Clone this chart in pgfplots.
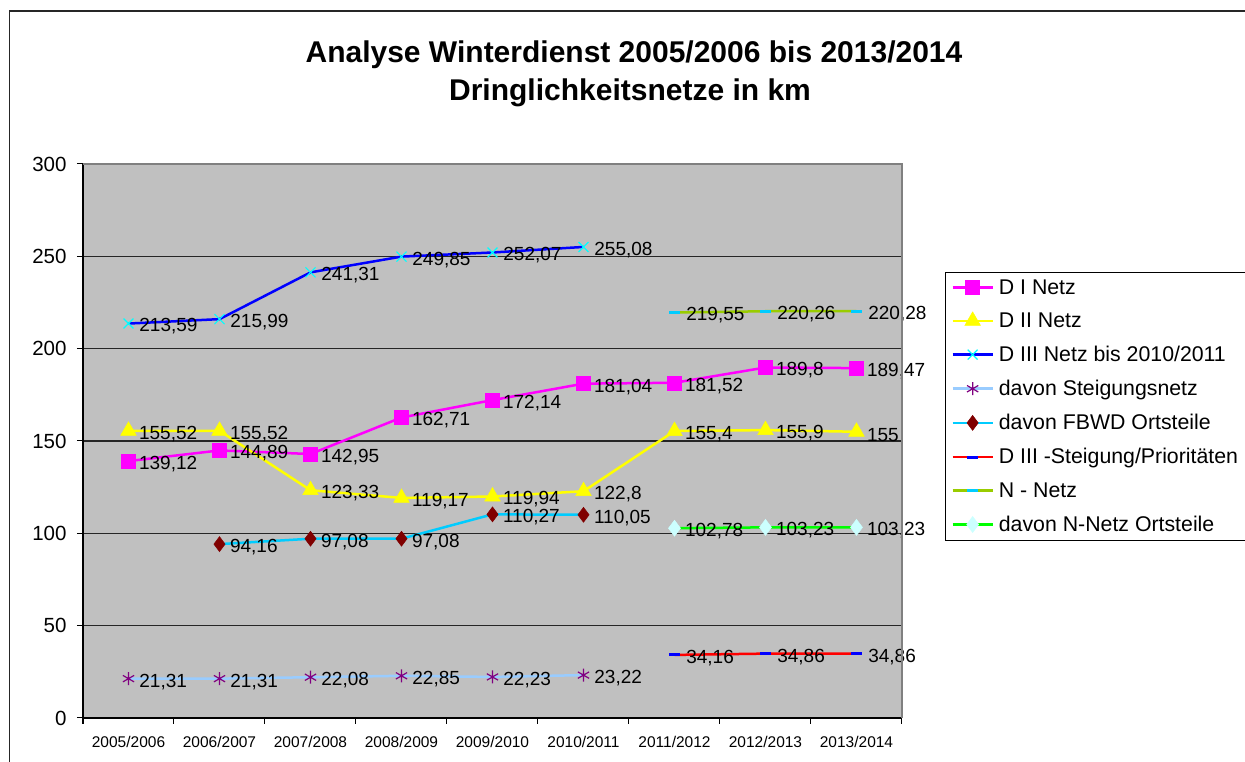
\documentclass[border=0pt]{standalone}
\usepackage{fontspec}
\setmainfont{Liberation Sans}
\usepackage{pgfplots}
\pgfplotsset{compat=1.18}
\definecolor{bgc}{RGB}{192,192,192}
\definecolor{mag}{RGB}{255,0,255}
\definecolor{yel}{RGB}{255,255,0}
\definecolor{dblue}{RGB}{0,0,255}
\definecolor{cyn}{RGB}{0,255,255}
\definecolor{lblue}{RGB}{153,204,255}
\definecolor{purp}{RGB}{128,0,128}
\definecolor{skyc}{RGB}{0,204,255}
\definecolor{dred}{RGB}{128,0,0}
\definecolor{ygreen}{RGB}{153,204,0}
\definecolor{lgreen}{RGB}{0,255,0}
\definecolor{lcyan}{RGB}{204,255,255}
\begin{document}
\begin{tikzpicture}[x=1pt,y=1pt]
\useasboundingbox (0,0) rectangle (1245,762);
\fill[white] (0,0) rectangle (1245,762);
\draw[line width=1.2pt, black!85] (9.5,-2) -- (9.5,751) -- (1247,751);
\node[anchor=base, font=\bfseries\fontsize{30}{36}\selectfont] at (634,699) {Analyse Winterdienst 2005/2006 bis 2013/2014};
\node[anchor=base, font=\bfseries\fontsize{30}{36}\selectfont] at (630,661) {Dringlichkeitsnetze in km};
\begin{axis}[
  at={(83pt,44pt)}, anchor=south west,
  scale only axis, width=819pt, height=554pt,
  xmin=-0.5, xmax=8.5, ymin=0, ymax=300,
  clip=false,
  axis background/.style={fill=bgc},
  axis x line*=bottom, axis y line*=left,
  axis line style={line width=1.5pt, black},
  xtick={0,...,8},
  xticklabels={2005/2006,2006/2007,2007/2008,2008/2009,2009/2010,2010/2011,2011/2012,2012/2013,2013/2014},
  major x tick style={draw=none},
  minor xtick={-0.5,0.5,...,8.5},
  minor tick length=6pt,
  minor x tick style={line width=1pt, black},
  ytick={0,50,...,300},
  tick align=outside,
  major tick length=6pt,
  major y tick style={line width=1pt, black},
  ymajorgrids,
  grid style={line width=1.2pt, black!85},
  /pgf/number format/assume math mode=true,
  yticklabel style={font=\fontsize{20.5}{24}\selectfont, xshift=-7pt},
  xticklabel style={font=\fontsize{15.5}{18}\selectfont, yshift=-9pt},
  nodes near coords={\pgfmathprintnumber[use comma,fixed,precision=2,assume math mode=true]{\pgfplotspointmeta}},
  every node near coord/.append style={anchor=west, xshift=7pt, yshift=-3pt, text=black, font=\fontsize{19}{22}\selectfont},
  legend image code/.code={\draw[mark repeat=2,mark phase=2,#1] plot coordinates {(0pt,0pt) (20pt,0pt) (40pt,0pt)}; \path (43pt,0pt);},
  legend style={at={(1.0525,0.805)}, anchor=north west, draw=black, line width=0.8pt, fill=white,
    font=\fontsize{21.3}{25}\selectfont, row sep=13.2pt, inner xsep=6pt, inner ysep=5pt},
  legend cell align=left,
  after end axis/.code={\draw[line width=1.2pt, gray] (rel axis cs:0,1) -- (rel axis cs:1,1) -- (rel axis cs:1,0);},
]
\addplot[line width=2.5pt, mag, mark=square*, mark size=7pt, mark options={fill=mag, draw=mag, line width=0.5pt}]
 coordinates {(0,139.12) (1,144.89) (2,142.95) (3,162.71) (4,172.14) (5,181.04) (6,181.52) (7,189.8) (8,189.47)};
\addlegendentry{D I Netz}
\addplot[line width=2.5pt, yel, mark=triangle*, mark size=9pt, mark options={fill=yel, draw=yel, line width=0.5pt}]
 coordinates {(0,155.52) (1,155.52) (2,123.33) (3,119.17) (4,119.94) (5,122.8) (6,155.4) (7,155.9) (8,155)};
\addlegendentry{D II Netz}
\addplot[line width=2.5pt, dblue, mark=x, mark size=7pt, mark options={draw=cyn, line width=1.2pt}]
 coordinates {(0,213.59) (1,215.99) (2,241.31) (3,249.85) (4,252.07) (5,255.08)};
\addlegendentry{D III Netz bis 2010/2011}
\addplot[line width=2.5pt, lblue, mark=asterisk, mark size=6.5pt, mark options={draw=purp, line width=1.2pt}]
 coordinates {(0,21.31) (1,21.31) (2,22.08) (3,22.85) (4,22.23) (5,23.22)};
\addlegendentry{davon Steigungsnetz}
\addplot[line width=2.5pt, skyc, mark=diamond*, mark size=7.5pt, mark options={fill=dred, draw=dred, line width=0.5pt}]
 coordinates {(1,94.16) (2,97.08) (3,97.08) (4,110.27) (5,110.05)};
\addlegendentry{davon FBWD Ortsteile}
\addplot[line width=2.5pt, red, mark=-, mark size=5.5pt, mark options={draw=dblue, line width=3pt}]
 coordinates {(6,34.16) (7,34.86) (8,34.86)};
\addlegendentry{D III -Steigung/Prioritäten}
\addplot[line width=2.5pt, ygreen, mark=-, mark size=5.5pt, mark options={draw=skyc, line width=3pt}]
 coordinates {(6,219.55) (7,220.26) (8,220.28)};
\addlegendentry{N - Netz}
\addplot[line width=2.5pt, lgreen, mark=diamond*, mark size=8pt, mark options={fill=lcyan, draw=lcyan, line width=0.5pt}]
 coordinates {(6,102.78) (7,103.23) (8,103.23)};
\addlegendentry{davon N-Netz Ortsteile}
\end{axis}
\end{tikzpicture}
\end{document}
